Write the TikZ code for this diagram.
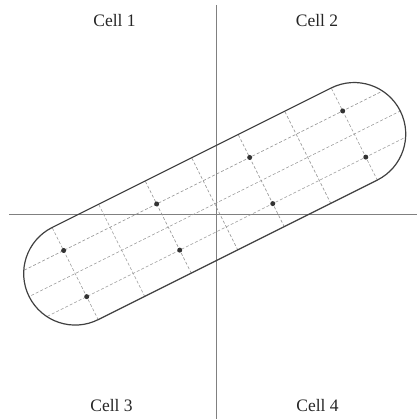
\documentclass[tikz,border=0pt]{standalone}
\usepackage{fontspec}
\setmainfont{Liberation Serif}
\begin{document}
\begin{tikzpicture}[x=1pt,y=1pt,
  outline/.style={draw=black!75, line width=1.2pt},
  axis/.style={draw=black!50, line width=0.9pt},
  gridline/.style={draw=black!40, line width=0.6pt, dash pattern=on 3pt off 2pt},
  dot/.style={circle, fill=black!80, inner sep=0pt, minimum size=5pt},
  lbl/.style={font=\fontsize{17.5}{20}\selectfont, text=black!85, anchor=base, inner sep=0pt}]
\useasboundingbox (0,0) rectangle (417,419);
% axes
\coordinate (vt) at (216.7,414);
\coordinate (vb) at (216.7,0);
\coordinate (hl) at (9,205);
\coordinate (hr) at (417,205);
\draw[axis] (vt) -- (vb);
\draw[axis] (hl) -- (hr);
% labels
\node[lbl] (c1) at (114.5,392) {Cell 1};
\node[lbl] (c2) at (317,392) {Cell 2};
\node[lbl] (c3) at (111.5,7) {Cell 3};
\node[lbl] (c4) at (317.5,7) {Cell 4};
% stadium
\begin{scope}[shift={(214.7,215.2)}, rotate=26.565]
  \begin{scope}
    \clip (-156,-51.5) -- (156,-51.5) arc[start angle=-90,end angle=90,radius=51.5]
      -- (-156,51.5) arc[start angle=90,end angle=270,radius=51.5] -- cycle;
    \foreach \t in {-25.8,0,25.8}
      \draw[gridline] (-215,\t) -- (215,\t);
    \foreach \s in {-156,-104,-52,0,52,104,156}
      \draw[gridline] (\s,-52) -- (\s,52);
  \end{scope}
  \draw[outline] (-156,-51.5) -- (156,-51.5) arc[start angle=-90,end angle=90,radius=51.5]
      -- (-156,51.5) arc[start angle=90,end angle=270,radius=51.5] -- cycle;
  \foreach \s [count=\i] in {-156,-52,52,156}{
    \node[dot] (d\i a) at (\s,25.8) {};
    \node[dot] (d\i b) at (\s,-25.8) {};
  }
\end{scope}
\end{tikzpicture}
\end{document}
